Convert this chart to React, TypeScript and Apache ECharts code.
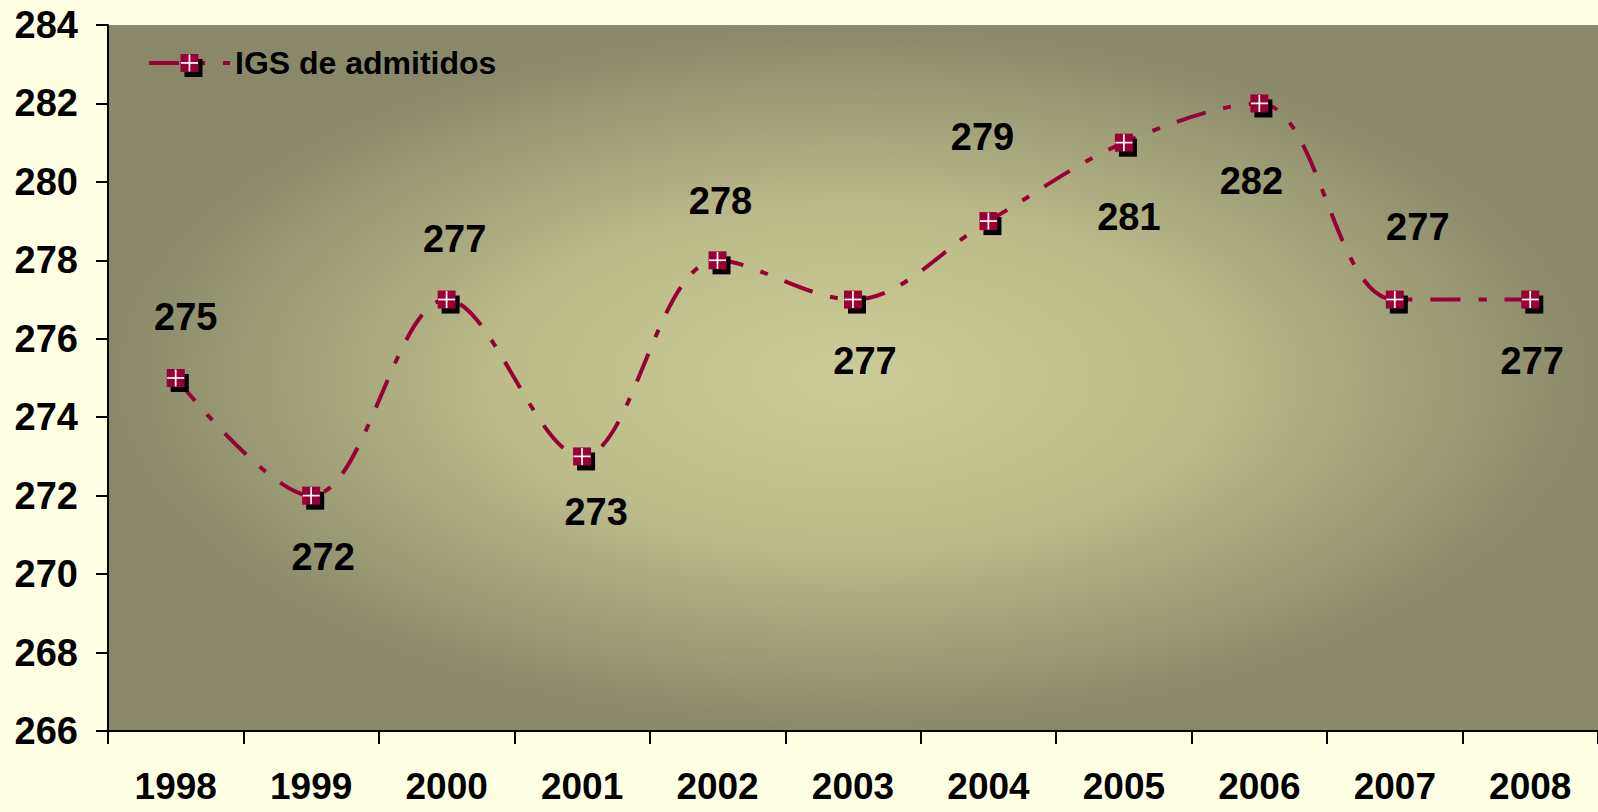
import React, { useEffect, useRef } from "react";
import * as echarts from "echarts";

const years = ["1998", "1999", "2000", "2001", "2002", "2003", "2004", "2005", "2006", "2007", "2008"];
const igsValues = [275, 272, 277, 273, 278, 277, 279, 281, 282, 277, 277];
const yTicks = { min: 266, max: 284, interval: 2 };
// label offsets (dx, dy) relative to each marker
const labelOffsets: [number, number][] = [
  [10, -61], [12, 61], [8, -61], [14, 56], [3, -59], [12, 61],
  [-6, -84], [5, 74], [-8, 78], [23, -73], [2, 61],
];

const markerSvg =
  '<svg xmlns="http://www.w3.org/2000/svg" width="36" height="36" viewBox="0 0 36 36">' +
  '<rect x="13" y="14" width="18" height="18" fill="#000"/>' +
  '<rect x="9" y="9" width="18" height="18" fill="#990033"/>' +
  '<rect x="9.5" y="17.1" width="17" height="1.7" fill="#fff"/>' +
  '<rect x="17.1" y="9.5" width="1.7" height="17" fill="#fff"/>' +
  "</svg>";
const markerSymbol = "image://data:image/svg+xml;charset=utf-8," + encodeURIComponent(markerSvg);

const FONT = "'Liberation Sans', Arial, sans-serif";

export default function App() {
  const ref = useRef<HTMLDivElement>(null);
  useEffect(() => {
    if (!ref.current) return;
    const chart = echarts.init(ref.current, null, { renderer: "svg" });
    chart.setOption({
      animation: false,
      backgroundColor: "#FFFFE3",
      grid: {
        left: 108,
        right: 0,
        top: 25,
        bottom: 81,
        show: true,
        borderWidth: 0,
        backgroundColor: {
          type: "radial",
          x: 0.5,
          y: 0.5,
          r: 0.5,
          colorStops: [
            { offset: 0, color: "#CBCB97" },
            { offset: 0.45, color: "#BDBD8C" },
            { offset: 1, color: "#89896A" },
          ],
        },
      },
      legend: {
        left: 142,
        top: 40,
        itemWidth: 81,
        itemHeight: 45,
        lineStyle: { width: 4, type: [30, 18, 8, 18] },
        textStyle: { fontSize: 32, fontWeight: "bold", color: "#000", fontFamily: FONT },
        data: ["IGS de admitidos"],
      },
      xAxis: {
        type: "category",
        data: years,
        boundaryGap: true,
        axisLine: { lineStyle: { color: "#000", width: 2 } },
        axisTick: { show: true, length: 13, lineStyle: { color: "#000", width: 2 } },
        axisLabel: {
          fontSize: 37,
          fontWeight: "bold",
          color: "#000",
          fontFamily: FONT,
          margin: 40,
          lineHeight: 30,
        },
        splitLine: { show: false },
      },
      yAxis: {
        type: "value",
        min: yTicks.min,
        max: yTicks.max,
        interval: yTicks.interval,
        axisLine: { show: true, lineStyle: { color: "#000", width: 2 } },
        axisTick: { show: true, length: 12, lineStyle: { color: "#000", width: 2 } },
        axisLabel: { fontSize: 38, fontWeight: "bold", color: "#000", fontFamily: FONT, margin: 30 },
        splitLine: { show: false },
      },
      series: [
        {
          name: "IGS de admitidos",
          type: "line",
          smooth: 0.35,
          symbol: markerSymbol,
          symbolSize: 36,
          itemStyle: { color: "#990033" },
          lineStyle: { color: "#990033", width: 4, type: [30, 18, 8, 18], cap: "butt" },
          label: {
            show: true,
            position: "inside",
            fontSize: 38,
            fontWeight: "bold",
            color: "#000",
            fontFamily: FONT,
          },
          data: igsValues.map((v, i) => ({ value: v, label: { offset: labelOffsets[i] } })),
        },
      ],
    });
    return () => chart.dispose();
  }, []);
  return (
    <div
      ref={ref}
      style={{ position: "absolute", left: 0, top: 0, width: 1598, height: 812 }}
    />
  );
}
